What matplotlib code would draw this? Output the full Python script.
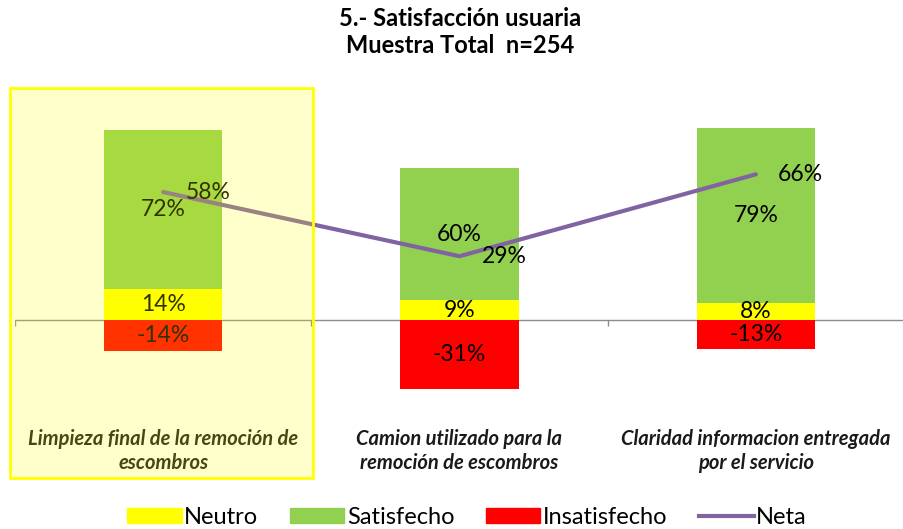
import matplotlib
matplotlib.use("Agg")
import matplotlib.pyplot as plt
import matplotlib.patches as mpatches
from matplotlib.lines import Line2D
import numpy as np

plt.rcParams['font.family'] = ['Lato', 'DejaVu Sans']

# data
categories = ["Limpieza final de la remoción de\nescombros",
              "Camion utilizado para la\nremoción de escombros",
              "Claridad informacion entregada\npor el servicio"]
neutro = [14, 9, 8]
satisfecho = [72, 60, 79]
insatisfecho = [-14, -31, -13]
neta = [58, 29, 66]

c_neutro = "#FFFF00"
c_satis = "#92D050"
c_insat = "#FF0000"
c_neta = "#8064A2"

W, H = 904, 529
fig = plt.figure(figsize=(W / 100, H / 100), dpi=100)
ax = fig.add_axes([15 / W, 1 - 420 / H, (904 - 15) / W, (420 - 88) / H])

x = np.arange(len(categories))
bw = 0.4
ax.bar(x, neutro, bw, color=c_neutro, zorder=2)
ax.bar(x, satisfecho, bw, bottom=neutro, color=c_satis, zorder=2)
ax.bar(x, insatisfecho, bw, color=c_insat, zorder=2)
ax.plot(x, neta, color=c_neta, lw=3, zorder=3, solid_capstyle='round')

# zero line with category separator ticks
ax.axhline(0, color="#8c8c8c", lw=1, zorder=1)
ax.vlines(np.arange(len(categories) + 1) - 0.5, -2.5, 0, color="#8c8c8c", lw=1)

lab_kw = dict(ha='center', va='center', fontsize=16.5, color='black', zorder=4)
for i in range(len(categories)):
    ax.text(x[i], neutro[i] / 2, f"{neutro[i]}%", **lab_kw)
    ax.text(x[i], neutro[i] + satisfecho[i] / 2, f"{satisfecho[i]}%", **lab_kw)
    ax.text(x[i], insatisfecho[i] / 2, f"{insatisfecho[i]}%", **lab_kw)
    ax.annotate(f"{neta[i]}%", (x[i], neta[i]), xytext=(16, 0),
                textcoords='offset points', ha='left', va='center',
                fontsize=16.5, color='black', zorder=4)
    ax.text(x[i], -59, categories[i], ha='center', va='center',
            fontsize=14.5, fontweight='bold', fontstyle='italic',
            color='#1a1a1a', linespacing=1.3, clip_on=False)

ax.set_xlim(-0.5, 2.5)
ax.set_ylim(-45, 105)
ax.axis('off')

fig.text(460 / W, 1 - 32 / H, "5.- Satisfacción usuaria\nMuestra Total  n=254",
         ha='center', va='center', fontsize=17, fontweight='bold',
         linespacing=1.25)

# highlight box over the first category
hl = mpatches.Rectangle((10 / W, 1 - 478 / H), 303 / W, 390 / H,
                        transform=fig.transFigure, facecolor=c_neutro,
                        alpha=0.2, edgecolor='none', zorder=10)
hl_edge = mpatches.Rectangle((10 / W, 1 - 478 / H), 303 / W, 390 / H,
                             transform=fig.transFigure, facecolor='none',
                             edgecolor=c_neutro, lw=2, zorder=11)
fig.add_artist(hl)
fig.add_artist(hl_edge)

handles = [mpatches.Patch(color=c_neutro, label="Neutro"),
           mpatches.Patch(color=c_satis, label="Satisfecho"),
           mpatches.Patch(color=c_insat, label="Insatisfecho"),
           Line2D([], [], color=c_neta, lw=3, label="Neta")]
fig.legend(handles=handles, loc='center', bbox_to_anchor=(467 / W, 1 - 517 / H),
           ncol=4, frameon=False, fontsize=17, handlelength=2.3,
           handleheight=0.6, handletextpad=0.1, columnspacing=1.35,
           borderpad=0)

fig.savefig("out.png", dpi=100)
